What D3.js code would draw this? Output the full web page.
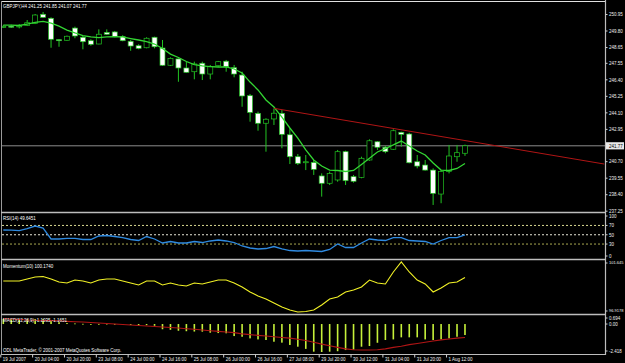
<!DOCTYPE html>
<html><head><meta charset="utf-8">
<script src="https://cdn.jsdelivr.net/npm/d3@7"></script>
<style>html,body{margin:0;padding:0;background:#000;overflow:hidden}</style>
</head><body><svg id="c" width="625" height="363"></svg>
<script>
// ---------------- DATA ----------------
const opens  = [250.04,250.10,250.06,250.16,250.30,250.93,250.65,249.16,249.12,249.97,249.33,249.09,248.86,249.67,249.70,249.37,249.05,248.74,248.60,249.33,248.58,247.38,247.82,247.19,246.93,247.52,246.77,247.35,247.66,247.21,246.70,245.26,244.03,243.34,243.64,244.03,242.54,241.01,240.62,240.61,239.67,239.16,239.39,241.36,239.62,239.57,240.78,242.05,241.67,241.53,242.71,242.59,240.66,240.43,240.08,238.41,239.97,241.01,241.25];
const highs  = [250.18,250.20,250.25,250.53,250.95,251.09,250.72,249.19,249.45,250.07,249.42,249.19,249.88,249.88,249.77,249.47,249.14,248.84,249.33,249.37,249.14,247.93,247.86,247.63,247.63,247.63,247.40,247.68,247.75,247.40,246.93,245.38,244.15,243.69,244.38,244.26,242.99,241.20,241.13,240.78,239.85,239.97,241.48,241.43,239.74,241.01,242.22,242.10,241.76,242.92,242.75,242.68,241.13,240.78,240.20,240.08,241.83,241.83,241.85];
const lows   = [249.97,249.98,249.95,250.11,250.25,250.69,248.60,248.67,249.08,249.26,248.49,248.74,248.84,249.49,249.33,249.05,248.39,248.49,248.56,248.56,247.33,247.33,246.23,246.86,246.40,246.35,246.40,247.28,246.93,246.54,244.49,243.45,242.82,241.36,243.22,241.60,240.50,240.43,240.08,239.74,238.23,239.04,239.27,239.04,239.20,239.51,240.73,241.48,241.25,241.48,241.71,240.55,240.20,240.04,237.65,237.77,239.85,240.66,241.07];
const closes = [250.08,250.06,250.12,250.34,250.88,250.72,249.19,249.14,249.40,249.42,249.02,248.84,249.54,249.54,249.37,249.09,248.72,248.56,249.26,248.67,247.38,247.86,247.19,246.89,247.47,246.77,247.28,247.63,247.28,246.77,245.24,244.10,243.34,243.62,244.04,242.57,241.01,240.55,240.66,240.13,239.16,239.85,241.36,239.34,239.30,240.90,242.12,241.67,241.36,242.82,242.57,240.59,240.36,240.08,238.46,239.97,241.06,241.29,241.77];
const maValues = [250.18,250.18,250.15,250.25,250.36,250.43,250.32,250.11,249.83,249.63,249.45,249.35,249.31,249.35,249.38,249.35,249.24,249.14,249.03,248.86,248.55,248.16,247.92,247.64,247.43,247.33,247.29,247.26,247.26,247.12,246.84,246.21,245.66,244.96,244.47,243.77,243.01,242.31,241.48,240.78,240.36,240.08,240.05,239.98,240.05,240.47,240.90,241.34,241.58,241.83,242.10,241.76,241.41,241.13,240.57,240.08,240.05,240.19,240.54];
const trendBars   = [34, 75.5];
const trendPrices = [244.38, 240.50];
const lastPrice = 241.77;
const priceTicks = [250.95,249.80,248.65,247.55,246.40,245.25,244.10,242.95,240.70,239.55,238.40,237.25];

const rsiValues = [60.2,60,59,63.4,68.8,64.5,40.9,40.9,42,42,39.8,39.8,47.3,48.4,46.2,44,39.8,37.6,46.2,40.9,32.3,35.5,32.3,32.3,35.5,33.3,36.6,38.7,36.6,33.3,25.8,21.5,19.4,20.4,24.7,19.4,16.1,15.1,16.1,15.1,14,18.3,30.1,22.6,22.6,32.3,40.9,38.7,37.6,44,44,37.6,36.6,35.5,30.1,37.6,44,44,49.65];
const rsiLevels = [70, 50, 30];
const rsiTicks = [100, 70, 50, 30, 0];

const momValues = [99.85,99.85,99.85,100.04,100.23,100.27,100.04,99.75,99.66,99.94,99.85,99.66,99.94,100.04,100.04,99.85,99.66,99.47,99.85,99.85,99.47,99.66,99.47,99.38,99.66,99.57,99.75,99.94,99.94,99.66,99.28,98.81,98.43,98.15,97.77,97.39,97.11,96.92,96.96,97.11,97.58,98.15,98.34,98.81,99.00,99.28,99.94,99.66,99.57,100.70,101.645,100.70,99.94,99.57,98.81,99.19,99.66,99.75,100.17];
const momTicks = [101.645, 96.9178];

const macdMain = [0.45,0.42,0.40,0.40,0.44,0.42,0.28,0.16,0.08,0.05,0.02,-0.02,0.01,0.03,0.01,-0.03,-0.08,-0.12,-0.10,-0.15,-0.45,-0.50,-0.58,-0.62,-0.65,-0.66,-0.75,-0.78,-0.80,-1.04,-1.10,-1.24,-1.33,-1.38,-1.53,-1.61,-1.81,-1.96,-2.15,-2.39,-2.418,-2.39,-2.35,-2.25,-2.22,-1.96,-1.90,-1.62,-1.38,-1.33,-1.15,-1.15,-1.15,-1.33,-1.38,-1.33,-1.24,-1.10,-0.95];
const macdSignal = [0.475,0.432,0.389,0.346,0.328,0.302,0.294,0.277,0.233,0.199,0.173,0.130,0.086,0.043,0.0,-0.043,-0.086,-0.130,-0.173,-0.216,-0.259,-0.303,-0.346,-0.406,-0.458,-0.519,-0.579,-0.631,-0.691,-0.743,-0.85,-0.92,-0.98,-1.04,-1.10,-1.16,-1.22,-1.31,-1.43,-1.58,-1.74,-1.88,-2.02,-2.15,-2.22,-2.25,-2.25,-2.22,-2.15,-2.02,-1.92,-1.78,-1.68,-1.57,-1.47,-1.37,-1.30,-1.22,-1.165];
const macdTicks = [0.694, 0.00, -2.418];

const dateBars   = [0,4,8,12,16,20,24,28,32,36,40,44,48,52,56];
const dateLabels = ["19 Jul 2007","20 Jul 04:00","20 Jul 20:00","23 Jul 08:00","24 Jul 00:00","24 Jul 16:00","25 Jul 08:00","26 Jul 00:00","26 Jul 16:00","27 Jul 08:00","29 Jul 20:00","30 Jul 12:00","31 Jul 04:00","31 Jul 20:00","1 Aug 12:00"];

const titleMain = "GBPJPY,H4  241.25 241.85 241.07 241.77";
const titleRsi = "RSI(14) 49.6451";
const titleMom = "Momentum(10) 100.1740";
const titleMacd = "MACD(12,26,9) -1.1035 -1.1651";
const copyright = "ODL MetaTrader, \u00A9 2001-2007 MetaQuotes Software Corp.";

// ---------------- DRAW ----------------
const W = 625, H = 363;
const FONT = '"Liberation Sans", Arial, sans-serif';
const FS = 5.6;
const COND = 0.8;
const AX = 605.5;
const svg = d3.select('#c');
svg.append('rect').attr('width', W).attr('height', H).attr('fill', '#000');

const bars = d3.range(opens.length);
const x = d3.scaleLinear().domain([0, 75]).range([3.3, 3.3 + 75 * 7.96]);

const P = { main: [1.5, 212.5], rsi: [212.5, 259.5], mom: [259.5, 314.5], macd: [314.5, 354.5] };
const defs = svg.append('defs');
Object.entries(P).forEach(([k, [t, b]]) => {
  defs.append('clipPath').attr('id', 'clip-' + k).append('rect')
    .attr('x', 2).attr('y', t + 0.5).attr('width', AX - 2.5).attr('height', b - t - 1);
});

const yMain = d3.scaleLinear().domain([237.25, 250.95]).range([210.7, 14]);
const yRsi  = d3.scaleLinear().domain([0, 100]).range([258, 211.5]);
const yMom  = d3.scaleLinear().domain([96.9178, 101.645]).range([312, 262]);
const yMacd = d3.scaleLinear().domain([-2.418, 0.694]).range([352, 316]);

// ---- main panel
const gm = svg.append('g').attr('clip-path', 'url(#clip-main)');
gm.append('line').attr('x1', 2).attr('x2', AX).attr('y1', yMain(lastPrice)).attr('y2', yMain(lastPrice))
  .attr('stroke', '#8c8c8c').attr('stroke-width', 1);

const GREEN = '#22c422';
gm.selectAll('line.wick').data(bars).enter().append('line').attr('class', 'wick')
  .attr('x1', i => x(i)).attr('x2', i => x(i))
  .attr('y1', i => yMain(highs[i])).attr('y2', i => yMain(lows[i]))
  .attr('stroke', GREEN).attr('stroke-width', 1);
gm.selectAll('rect.body').data(bars).enter().append('rect').attr('class', 'body')
  .attr('x', i => x(i) - 2.5).attr('width', 5)
  .attr('y', i => Math.min(yMain(opens[i]), yMain(closes[i])))
  .attr('height', i => Math.max(1, Math.abs(yMain(opens[i]) - yMain(closes[i]))))
  .attr('fill', i => closes[i] < opens[i] ? '#ffffff' : '#000000')
  .attr('stroke', GREEN).attr('stroke-width', 0.7);

gm.append('path').datum(bars)
  .attr('d', d3.line().x(i => x(i)).y(i => yMain(maValues[i])))
  .attr('fill', 'none').attr('stroke', '#33d633').attr('stroke-width', 1.3);

gm.append('path').datum([0, 1])
  .attr('d', d3.line().x(k => x(trendBars[k])).y(k => yMain(trendPrices[k])))
  .attr('fill', 'none').attr('stroke', '#b01515').attr('stroke-width', 1);

// ---- RSI panel
const gr = svg.append('g').attr('clip-path', 'url(#clip-rsi)');
const lvlColors = ['#d8d890', '#e6e6d8', '#a8a850'];
rsiLevels.forEach((v, k) => {
  gr.append('line').attr('x1', 2).attr('x2', AX).attr('y1', yRsi(v)).attr('y2', yRsi(v))
    .attr('stroke', lvlColors[k]).attr('stroke-width', 1).attr('stroke-dasharray', '2,2');
});
gr.append('path').datum(bars)
  .attr('d', d3.line().x(i => x(i)).y(i => yRsi(rsiValues[i])))
  .attr('fill', 'none').attr('stroke', '#2f8ae0').attr('stroke-width', 1.3);

// ---- Momentum panel
const go = svg.append('g').attr('clip-path', 'url(#clip-mom)');
go.append('path').datum(bars)
  .attr('d', d3.line().x(i => x(i)).y(i => yMom(momValues[i])))
  .attr('fill', 'none').attr('stroke', '#f2f226').attr('stroke-width', 1.1);

// ---- MACD panel
const gc = svg.append('g').attr('clip-path', 'url(#clip-macd)');
gc.selectAll('rect.hist').data(bars).enter().append('rect').attr('class', 'hist')
  .attr('x', i => x(i) - 0.8).attr('width', 1.6)
  .attr('y', i => Math.min(yMacd(0), yMacd(macdMain[i])))
  .attr('height', i => Math.max(0.8, Math.abs(yMacd(macdMain[i]) - yMacd(0))))
  .attr('fill', '#c6f03a');
gc.append('path').datum(bars)
  .attr('d', d3.line().x(i => x(i)).y(i => yMacd(macdSignal[i])))
  .attr('fill', 'none').attr('stroke', '#b01515').attr('stroke-width', 1.1);

// ---- frames
const fr = svg.append('g').attr('stroke', '#bdbdbd').attr('fill', 'none');
fr.append('line').attr('x1', 1).attr('x2', AX).attr('y1', 1.5).attr('y2', 1.5).attr('stroke', '#e0e0e0');
fr.append('line').attr('x1', 1.5).attr('x2', 1.5).attr('y1', 1).attr('y2', 354.5).attr('stroke', '#9a9a9a');
[P.main[1], P.rsi[1], P.mom[1]].forEach(yy => {
  fr.append('line').attr('x1', 1).attr('x2', AX).attr('y1', yy).attr('y2', yy).attr('stroke-width', 1.6);
});
fr.append('line').attr('x1', 1).attr('x2', AX).attr('y1', 354.5).attr('y2', 354.5).attr('stroke-width', 1.2);
fr.append('line').attr('x1', AX).attr('x2', AX).attr('y1', 0).attr('y2', 355).attr('stroke-width', 1.2);

// ---- right axes
function styleAxis(g) {
  g.select('.domain').remove();
  g.selectAll('.tick line').attr('stroke', '#cfcfcf');
  g.selectAll('.tick text').attr('class', 'rax').attr('fill', '#f0f0f0').attr('font-family', FONT).attr('font-size', FS).attr('x', 3.5);
}
svg.append('g').attr('transform', `translate(${AX},0)`)
  .call(d3.axisRight(yMain).tickValues(priceTicks).tickSize(2).tickFormat(d3.format('.2f')))
  .call(styleAxis);

function clampAxis(scale, ticks, fmt, panel) {
  const [t, b] = P[panel];
  const g = svg.append('g').attr('transform', `translate(${AX},0)`);
  ticks.forEach((v, k) => {
    const yy = Math.max(t + 3.5, Math.min(b - 3.5, scale(v)));
    g.append('line').attr('x1', 0).attr('x2', 2).attr('y1', yy).attr('y2', yy).attr('stroke', '#cfcfcf');
    g.append('text').attr('class', 'rax').attr('x', 3.5).attr('y', yy).attr('dy', '0.32em').text(fmt[k])
      .attr('fill', '#f0f0f0').attr('font-family', FONT).attr('font-size', FS);
  });
}
clampAxis(yRsi, rsiTicks, rsiTicks.map(String), 'rsi');
clampAxis(yMom, momTicks, ['101.645', '96.9178'], 'mom');
clampAxis(yMacd, macdTicks, ['0.694', '0.00', '-2.418'], 'macd');

// current price label
const yl = yMain(lastPrice);
svg.append('rect').attr('x', AX + 0.5).attr('y', yl - 3.6).attr('width', 18).attr('height', 7.2).attr('fill', '#e8e8e8');
svg.append('text').attr('class', 'rax').attr('x', AX + 3.5).attr('y', yl).attr('dy', '0.32em').text(lastPrice.toFixed(2))
  .attr('fill', '#000').attr('font-family', FONT).attr('font-size', FS);

// ---- date axis
const gd = svg.append('g').attr('transform', 'translate(-3,354.5)')
  .call(d3.axisBottom(x).tickValues(dateBars).tickSize(3).tickFormat((d, k) => dateLabels[k]));
gd.select('.domain').remove();
gd.selectAll('.tick line').attr('stroke', '#cfcfcf');
gd.selectAll('.tick text').attr('fill', '#f0f0f0').attr('font-family', FONT).attr('font-size', FS)
  .attr('text-anchor', 'start').attr('x', 2).attr('y', 2.3).attr('dy', '0.71em');

// ---- titles
const txt = (s, xx, yy) => svg.append('text').attr('x', xx).attr('y', yy).text(s)
  .attr('fill', '#ffffff').attr('font-family', FONT).attr('font-size', FS);
txt(titleMain, 3, 7.5);
txt(titleRsi, 3, 219.5);
txt(titleMom, 3, 268);
txt(titleMacd, 3, 321.5);
txt(copyright, 3, 352);

// condense all texts (MetaTrader's small narrow font); right-axis labels must fit before the edge
const RAX_MAX = W - (AX + 3.5) - 1.5;
svg.selectAll('text').each(function () {
  const w = this.getComputedTextLength();
  if (w <= 0) return;
  const sel = d3.select(this);
  if (this.classList.contains('rax') && w * COND > RAX_MAX) {
    // too long for the axis strip: shrink the font so its natural width fits
    sel.attr('font-size', FS * RAX_MAX / w);
    return;
  }
  sel.attr('textLength', w * COND).attr('lengthAdjust', 'spacingAndGlyphs');
});
</script></body></html>
